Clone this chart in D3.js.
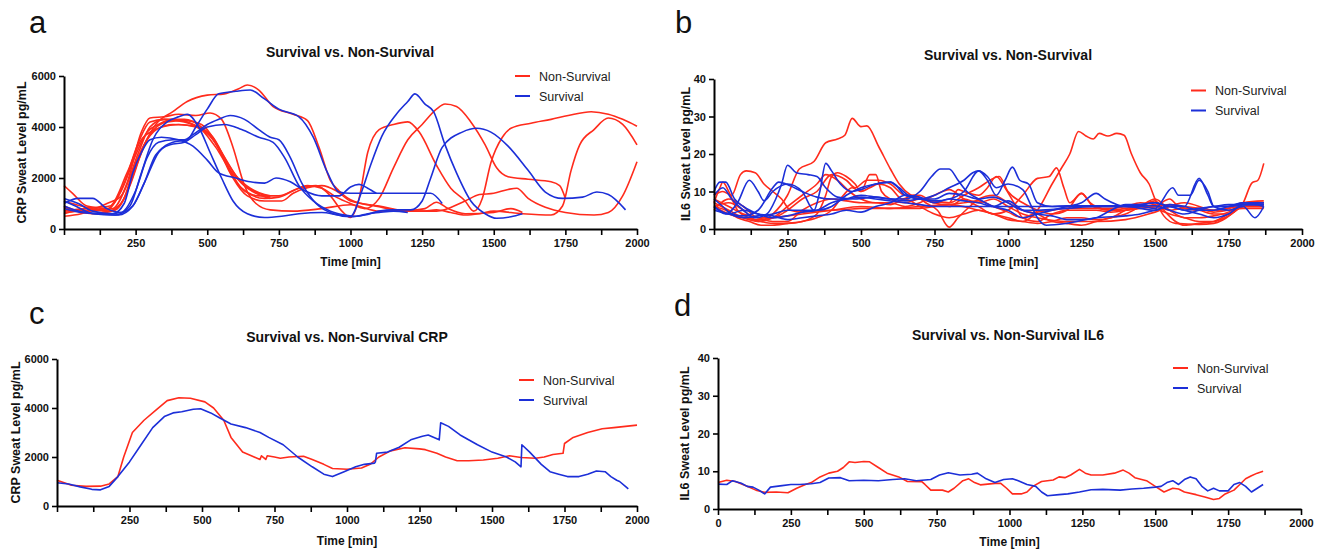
<!DOCTYPE html>
<html><head><meta charset="utf-8">
<script src="https://cdn.jsdelivr.net/npm/d3@7"></script>
<style>
body{margin:0;background:#fff;}
svg{display:block;}
</style></head>
<body>
<svg id="chart" width="1327" height="550"></svg>
<script>
// ---------------- DATA ----------------
const timeTicks = [0,125,250,375,500,625,750,875,1000,1125,1250,1375,1500,1625,1750,1875,2000];
const timeLabels = ["250","500","750","1000","1250","1500","1750","2000"];
const crpTicks = [0,2000,4000,6000];
const il6Ticks = [0,10,20,30,40];
const legendLabels = ["Non-Survival","Survival"];

// Panel a: CRP individual patients, Non-Survival
const crpNonSurvival = [
 [[0,1700],[30,1400],[80,900],[150,800],[200,1500],[250,2900],[290,3800],[330,4100],[380,4300],[430,4200],[480,3900],[530,3200],[580,2300],[630,1700],[680,1400],[720,1250]],
 [[0,900],[60,700],[150,750],[210,1800],[260,3400],[300,4200],[350,4300],[420,4200],[470,4000],[520,3600],[570,2600],[620,1800],[670,1400],[720,1200]],
 [[0,600],[70,800],[160,900],[220,2200],[270,3500],[320,3900],[380,4100],[450,4050],[500,3800],[550,3000],[600,2100],[650,1600],[700,1350],[720,1300]],
 [[0,650],[100,750],[170,800],[220,1800],[270,3800],[300,4350],[350,4400],[400,4500],[460,4450],[510,4550],[550,4300],[590,3200],[630,1700],[670,1000],[720,750],[800,700],[900,800],[1000,950],[1100,700],[1200,720],[1260,800],[1300,1050],[1340,800],[1400,600],[1500,650],[1560,800],[1600,650]],
 [[0,850],[100,600],[180,750],[230,1700],[280,3300],[320,4100],[380,4600],[430,5000],[500,5250],[560,5300],[610,5500],[640,5650],[680,5450],[730,4800],[800,4500],[850,4250],[890,3200],[930,1900],[960,1500],[1000,1150],[1100,870],[1200,700],[1300,700],[1400,1100],[1450,1350],[1500,1400],[1550,1550],[1580,1600],[1620,1200],[1680,850],[1750,650],[1850,550],[1900,650],[1950,1300],[2000,2640]],
 [[0,1100],[60,900],[150,700],[200,1000],[250,2600],[290,3500],[340,4000],[400,4100],[460,4000],[520,3500],[570,2500],[620,1600],[680,1300],[750,1300],[820,1600],[880,1700],[930,1300],[970,700],[1000,450],[1030,1200],[1060,3000],[1100,3900],[1150,4100],[1200,4200],[1240,3800],[1300,2500],[1350,1600],[1400,1100],[1430,700],[1460,1200],[1490,2600],[1530,3600],[1560,3950],[1630,4150],[1700,4300],[1760,4450],[1840,4600],[1900,4500],[1950,4300],[2000,4030]],
 [[0,700],[80,800],[160,700],[210,1200],[260,2700],[300,3700],[360,4200],[420,4250],[480,4100],[530,3400],[580,2200],[630,1500],[700,1200],[750,1250],[800,1500],[850,1700],[900,1600],[950,1250],[1000,1000],[1050,800],[1100,1200],[1150,2400],[1200,3500],[1250,4100],[1300,4700],[1330,4900],[1370,4800],[1420,4200],[1470,3300],[1510,2400],[1550,2050],[1620,1950],[1700,1850],[1730,1700],[1750,1200]],
 [[0,500],[60,600],[150,1000],[200,1300],[260,3000],[300,4000],[350,4300],[420,4300],[480,4000],[540,3200],[590,2000],[640,1300],[700,1100],[760,1100],[800,1400],[900,1700],[950,1500],[1000,1100],[1100,900],[1200,700],[1250,700],[1300,750],[1350,650],[1400,550],[1450,600],[1500,700],[1600,600],[1700,550],[1740,900],[1770,2300],[1800,3300],[1850,3900],[1900,4350],[1950,4100],[2000,3300]]
];
// Panel a: CRP individual patients, Survival
const crpSurvival = [
 [[0,1000],[50,1200],[100,1200],[150,800],[200,650],[240,900],[280,1800],[330,3000],[380,3400],[430,3500],[460,4000],[500,4700],[540,5300],[600,5400],[650,5450],[700,5100],[750,4700],[820,4400],[870,3600],[920,2200],[960,1450],[1000,1400],[1100,1400],[1280,1400],[1320,1000]],
 [[0,1100],[40,900],[100,600],[180,550],[230,900],[270,2200],[310,3500],[360,4200],[400,4400],[430,4500],[470,4000],[510,3000],[550,2000],[590,1100],[640,600],[700,450],[760,500],[820,600],[900,650],[960,550],[1000,500],[1040,1500],[1070,2500],[1110,3650],[1160,4500],[1200,5000],[1225,5300],[1260,4900],[1290,4600],[1330,3300],[1370,2200],[1420,1100],[1470,600],[1510,420],[1560,480],[1600,600]],
 [[0,800],[60,650],[150,600],[200,650],[250,1500],[290,2800],[330,3400],[380,3500],[420,3500],[450,3700],[500,4100],[540,4300],[580,4450],[630,4300],[680,3900],[720,3600],[750,3500],[790,2800],[830,1800],[880,1000],[940,600],[1000,480],[1050,550],[1100,700],[1150,750],[1210,750],[1250,1100],[1280,2000],[1320,3200],[1390,3800],[1440,3950],[1490,3800],[1550,3250],[1620,2300],[1680,1450],[1740,1200],[1810,1250],[1860,1450],[1900,1350],[1960,750]],
 [[0,1200],[50,1000],[100,700],[170,600],[210,1000],[240,2200],[270,3000],[300,3500],[340,3600],[400,3500],[450,3250],[500,2700],[540,2200],[600,2000],[650,1850],[700,1800],[740,2000],[790,1850],[840,1500],[900,1300],[960,1300],[1000,1650],[1030,1750],[1060,1600],[1090,1400]],
 [[0,900],[50,700],[120,600],[190,550],[240,900],[280,1800],[320,2900],[370,3300],[420,3400],[460,3700],[500,4000],[560,4100],[620,3900],[680,3600],[730,3400],[770,2800],[820,1700],[870,1100],[930,700],[980,550],[1020,500],[1060,600],[1100,650],[1150,700],[1200,650]]
];
// Panel b: IL6 individual patients, Non-Survival
const il6NonSurvival = [
 [[0,7],[50,5],[100,3],[150,2],[200,4],[250,9],[290,16],[340,18],[380,23],[420,24],[445,25],[470,29.5],[500,27.3],[520,27.5],[560,22],[600,16],[630,12],[670,9],[700,8],[750,7],[800,6],[850,8],[900,7],[950,8],[1000,6],[1050,4],[1100,3],[1200,2],[1300,2],[1400,2.5],[1500,4.5],[1600,7],[1700,5],[1800,6],[1870,6]],
 [[0,6],[50,4],[100,3],[150,2.5],[200,3],[300,4],[400,5],[500,6],[600,5.5],[700,6],[800,6.5],[900,5],[1000,3],[1050,2],[1100,5],[1150,12],[1180,16],[1210,20],[1240,26],[1265,24.8],[1290,24],[1310,25.5],[1340,24.8],[1370,25.5],[1395,25],[1420,20],[1450,15],[1480,12],[1500,8],[1530,3.5],[1570,1.5],[1650,1.2],[1700,1.5],[1760,4],[1800,7],[1830,12.3],[1850,13],[1870,17.5]],
 [[0,9],[30,10],[60,9],[90,14.5],[110,15.5],[140,15],[170,12],[200,10],[230,8],[260,5],[300,4.5],[350,4.8],[400,5],[450,5.2],[500,5.5],[550,5.5],[600,5.5],[650,5.5],[700,5.5],[750,6],[800,6.5],[850,7],[900,7.5],[950,6],[1000,4.5],[1050,3],[1100,4.5],[1150,5],[1200,5.5],[1250,5.5],[1300,5.5],[1350,5.5],[1400,6],[1450,7],[1500,6.5],[1550,5],[1600,5.5],[1650,5],[1700,4],[1750,4],[1800,6],[1870,6]],
 [[0,7],[20,11],[30,12.5],[50,10],[80,5],[120,3],[160,2],[200,1.5],[250,1.5],[300,2],[350,4],[380,9],[400,14],[420,15],[450,14],[480,12],[500,10],[530,14.5],[550,14.5],[570,10],[600,8],[650,7],[700,8],[750,7.5],[800,7],[830,10.5],[850,10],[900,9],[930,11],[960,14],[990,11],[1020,7],[1050,3],[1100,2],[1150,4],[1200,5],[1250,5],[1300,5],[1350,4.5],[1400,5],[1450,6],[1500,7.5],[1530,5],[1570,2],[1600,1],[1650,1.5],[1700,2],[1750,4],[1800,6],[1870,6.5]],
 [[0,6],[40,5],[80,3],[120,2],[160,1],[200,1],[250,1.5],[300,2],[350,3],[400,5],[440,9],[470,11],[500,10],[530,11],[560,12],[600,11],[640,8],[680,9],[720,7],[760,5],[800,0.5],[830,3],[870,6],[900,8],[950,9],[1000,7],[1050,5],[1100,4],[1150,2],[1200,1.5],[1250,1],[1300,2],[1350,3],[1400,4],[1450,6],[1500,8],[1550,5],[1600,3],[1650,3],[1700,3.5],[1750,4.5],[1800,7],[1870,7.5]],
 [[0,5],[50,8],[100,6],[150,3],[200,3],[250,5],[300,8],[350,10],[400,14.5],[450,13],[480,11],[520,13],[560,13],[600,12],[650,9],[700,9],[750,7],[800,7],[850,9],[900,11],[950,13.5],[970,14],[1000,10],[1050,7],[1100,5],[1150,4],[1200,5],[1250,9.5],[1280,7],[1300,6],[1350,5],[1400,5],[1450,5.5],[1500,6],[1550,8],[1580,6],[1650,5],[1700,5],[1750,5.5],[1800,7],[1870,7]],
 [[0,8],[50,6],[100,4],[150,3],[200,2],[250,2],[300,5],[350,7],[400,8],[450,7.5],[500,7],[550,7],[600,6.5],[650,8],[700,6],[750,4],[800,3],[850,4],[900,5],[950,4],[1000,2.5],[1050,2],[1100,1.5],[1150,2],[1200,3],[1250,3],[1300,2.5],[1350,3],[1400,5],[1450,6],[1500,6],[1550,6.5],[1600,6],[1650,5.5],[1700,4.5],[1750,5],[1800,5.5],[1870,5.5]],
 [[0,6],[50,7],[100,5],[150,2],[200,3],[250,6],[300,9],[350,12],[380,14.5],[420,13],[460,10],[500,8],[550,7],[600,7],[650,6],[700,7],[750,9],[800,10.5],[850,8],[900,6],[950,4],[1000,5],[1050,9],[1100,13.5],[1140,14],[1165,16.3],[1190,11],[1210,7],[1250,9.5],[1290,6],[1350,5],[1400,5.5],[1450,6],[1500,5.5],[1550,4],[1600,3],[1650,2],[1700,2],[1750,3.5],[1800,6],[1870,6.5]]
];
// Panel b: IL6 individual patients, Survival
const il6Survival = [
 [[0,9],[30,11],[60,8],[100,5],[140,3],[180,4],[210,8],[230,12],[250,17],[280,15],[320,14.5],[350,14],[380,11],[420,8.5],[480,8],[550,8.5],[600,8],[650,7.5],[700,8],[750,8],[800,9.5],[850,9],[900,8],[950,8.5],[1000,7],[1050,5],[1100,5],[1200,5.5],[1300,6],[1400,6],[1500,5],[1550,6.5],[1600,6],[1650,5],[1700,5],[1750,6],[1800,7],[1870,7]],
 [[0,6],[40,4],[80,7],[120,13],[150,10],[170,7.5],[200,10],[250,12],[300,10],[340,5],[360,10],[380,17.5],[400,15.5],[430,12],[470,10],[500,10.5],[550,12],[600,12.5],[620,11.5],[650,9],[700,8],[750,7.5],[800,8],[850,10],[900,15.5],[930,14],[960,11],[1000,12],[1050,10.5],[1080,6],[1100,3],[1130,1],[1200,1.5],[1300,3],[1400,3.5],[1450,4],[1500,5],[1550,6],[1600,5],[1650,5.5],[1700,6],[1750,6.5],[1800,6.5],[1870,6.5]],
 [[0,10],[20,12.5],[40,12.5],[70,8],[100,6],[150,4],[200,3],[250,3.5],[300,4.5],[350,5],[400,7],[450,8],[500,9],[550,8.5],[600,8],[650,8],[700,10],[740,14],[770,16],[800,16],[830,13],[860,10],[900,8],[950,6],[1000,5],[1050,3],[1100,4],[1150,5],[1200,6],[1250,7],[1300,9.5],[1330,8],[1400,6],[1450,6.5],[1500,7],[1550,6],[1600,6],[1650,13.5],[1680,9],[1700,6],[1750,6],[1800,7],[1870,6]],
 [[0,5],[50,4],[100,3],[150,3.5],[200,4],[250,5],[300,5],[350,5],[400,6],[450,9],[500,11],[550,12],[600,12.5],[630,11],[660,9],[700,8],[750,9],[800,11],[850,13],[880,15],[900,15.5],[930,13],[960,9],[990,13],[1015,16.5],[1040,13],[1070,12],[1100,7],[1150,6],[1200,6.2],[1500,6.2],[1550,5],[1600,4],[1650,5],[1700,6],[1750,6],[1800,6.5],[1870,7]],
 [[0,8],[30,6],[60,4],[100,3.5],[150,5],[200,11],[220,12.5],[260,11.5],[300,10],[350,8.5],[400,8],[450,8],[500,8.5],[550,8],[600,7.5],[650,7],[700,6.5],[750,6],[1450,6],[1500,5.5],[1560,11],[1580,9],[1620,9],[1650,13],[1680,10],[1700,6],[1750,5],[1800,6],[1840,3],[1870,6]],
 [[0,6],[50,4],[100,5],[150,4],[200,3.5],[250,2.5],[300,3],[350,3.5],[400,4],[450,5],[500,4.5],[550,6],[600,7],[650,9],[700,8.5],[750,7],[800,8],[850,7.5],[900,7],[950,6],[1000,7.5],[1050,5],[1100,4],[1150,3.5],[1200,2.5],[1250,2.5],[1300,3],[1350,5],[1400,6.5],[1450,6.5],[1500,7],[1550,6],[1600,5],[1650,4],[1700,3],[1750,4],[1800,6.5],[1870,6.5]]
];
// Panel c: CRP group averages
const crpAvgNonSurvival = [[0,1050],[50,850],[100,800],[150,810],[180,900],[210,1200],[230,2000],[260,3000],[300,3500],[340,3900],[380,4300],[420,4420],[460,4400],[510,4250],[540,4000],[575,3500],[600,2800],[640,2200],[680,2000],[700,1900],[705,2050],[720,1900],[725,2050],[750,2000],[770,1950],[800,2000],[850,2030],[880,1900],[920,1700],[950,1530],[1000,1500],[1050,1550],[1080,1700],[1110,2000],[1150,2250],[1200,2380],[1250,2330],[1270,2300],[1310,2150],[1340,2000],[1380,1850],[1420,1850],[1470,1880],[1520,1950],[1560,2050],[1600,1980],[1650,1950],[1680,2000],[1710,2100],[1745,2150],[1750,2550],[1780,2800],[1830,3000],[1880,3150],[1920,3200],[2000,3300]];
const crpAvgSurvival = [[0,950],[40,900],[80,780],[120,680],[150,660],[180,800],[210,1200],[250,1800],[290,2500],[330,3200],[370,3650],[400,3800],[430,3850],[470,3950],[495,3970],[530,3800],[560,3600],[600,3350],[650,3200],[700,3000],[730,2800],[780,2500],[830,2000],[880,1600],[920,1300],[950,1200],[990,1400],[1030,1600],[1060,1700],[1095,1750],[1098,1800],[1102,2150],[1140,2200],[1180,2400],[1220,2700],[1260,2850],[1280,2900],[1318,2700],[1323,3400],[1350,3250],[1390,2900],[1450,2500],[1500,2200],[1550,2000],[1580,1800],[1600,1600],[1603,2500],[1630,2200],[1670,1700],[1700,1400],[1730,1300],[1760,1200],[1800,1200],[1830,1300],[1860,1430],[1890,1400],[1910,1200],[1930,1050],[1940,1000],[1960,800],[1970,700]];
// Panel d: IL6 group averages
const il6AvgNonSurvival = [[0,7],[30,7.6],[60,7.3],[100,6],[130,5],[160,4.4],[200,4.5],[240,4.3],[270,5.5],[300,6.5],[320,7],[350,8.5],[380,9.5],[410,10],[430,11],[450,12.5],[470,12.3],[500,12.6],[520,12.5],[550,11],[580,9.5],[620,8.5],[650,7.3],[700,7.2],[710,6.5],[730,5],[770,5],[790,4.5],[810,5.5],[840,7.5],[860,8],[880,7],[900,6.4],[950,6.8],[970,6.8],[990,5.5],[1010,4],[1040,4],[1060,4.5],[1080,6],[1110,7.3],[1150,7.7],[1170,8.5],[1190,8.3],[1210,9],[1240,10.5],[1260,9.5],[1280,9],[1320,9],[1360,9.5],[1390,10.3],[1410,9.5],[1430,8.3],[1470,7.5],[1500,6],[1530,4.5],[1560,5.5],[1580,5.3],[1600,4.5],[1640,3.8],[1670,3.2],[1700,2.5],[1720,2.8],[1740,4],[1770,5],[1790,6.5],[1810,8],[1830,8.8],[1850,9.5],[1870,10]];
const il6AvgSurvival = [[0,6.6],[30,6.5],[50,7.5],[80,6.8],[100,6],[120,5.8],[140,5],[160,4],[180,5.8],[220,6.2],[250,6.5],[280,6.5],[320,6.7],[350,7],[380,8.2],[420,8.3],[450,7.5],[500,7.6],[550,7.5],[600,7.8],[640,8],[680,7.5],[730,7.8],[760,9],[790,9.6],[830,9],[870,9.2],[890,9.5],[920,8],[950,7],[980,7.8],[1010,8],[1030,7.5],[1060,6.5],[1090,6],[1110,4.5],[1130,3.5],[1170,3.8],[1200,4],[1240,4.5],[1280,5.1],[1320,5.2],[1380,5],[1420,5.3],[1460,5.5],[1500,5.8],[1520,6],[1540,7],[1560,7.5],[1580,6.5],[1600,7.8],[1620,8.5],[1640,8],[1660,6],[1680,4.8],[1700,5.5],[1720,4.8],[1750,4.8],[1770,6.5],[1790,7],[1810,6],[1830,4.5],[1850,5.5],[1870,6.5]];

// ---------------- DRAWING ----------------
const RED = "#ff2b1c", BLUE = "#1c2fd8";
const FONT = '"Liberation Sans",Arial,Helvetica,sans-serif';
const svg = d3.select("#chart");

function panel(cfg){
  const g = svg.append("g");
  const x = d3.scaleLinear().domain([0,2000]).range([cfg.x0,cfg.x1]);
  const y = d3.scaleLinear().domain([0,cfg.ymax]).range([cfg.yb,cfg.yt]);
  const line = d3.line().x(d=>x(d[0])).y(d=>y(d[1])).curve(cfg.smooth ? d3.curveMonotoneX : d3.curveLinear);
  cfg.red.forEach(s=>g.append("path").attr("d",line(s)).attr("fill","none").attr("stroke",RED).attr("stroke-width",1.6).attr("stroke-linejoin","round"));
  cfg.blue.forEach(s=>g.append("path").attr("d",line(s)).attr("fill","none").attr("stroke",BLUE).attr("stroke-width",1.6).attr("stroke-linejoin","round"));
  // x axis
  const xa = d3.axisBottom(x).tickValues(timeTicks).tickSize(6).tickPadding(4).tickSizeOuter(0)
     .tickFormat(d=> (d%250===0 && (d>0 || cfg.zeroLabel)) ? String(d) : "");
  const gx = g.append("g").attr("transform",`translate(0,${cfg.yb})`).call(xa);
  gx.select(".domain").attr("stroke","#000").attr("stroke-width",2);
  gx.selectAll(".tick line").attr("stroke","#000").attr("stroke-width",1.6);
  gx.selectAll("text").attr("font-family",FONT).attr("font-weight","bold").attr("font-size",11).attr("fill","#111");
  // y axis
  const ya = d3.axisLeft(y).tickValues(cfg.yticks).tickSize(5).tickPadding(3).tickSizeOuter(0).tickFormat(d3.format("d"));
  const gy = g.append("g").attr("transform",`translate(${cfg.x0},0)`).call(ya);
  gy.select(".domain").attr("stroke","#000").attr("stroke-width",2);
  gy.selectAll(".tick line").attr("stroke","#000").attr("stroke-width",1.6);
  gy.selectAll("text").attr("font-family",FONT).attr("font-weight","bold").attr("font-size",11).attr("fill","#111");
  // labels
  g.append("text").attr("x",cfg.titleX).attr("y",cfg.titleY).attr("text-anchor","middle")
    .attr("font-family",FONT).attr("font-weight","bold").attr("font-size",14).attr("fill","#111").text(cfg.title);
  g.append("text").attr("x",(cfg.x0+cfg.x1)/2).attr("y",cfg.xlabY).attr("text-anchor","middle")
    .attr("font-family",FONT).attr("font-weight","bold").attr("font-size",12).attr("fill","#111").text("Time [min]");
  g.append("text").attr("transform",`translate(${cfg.ylabX},${(cfg.yt+cfg.yb)/2}) rotate(-90)`).attr("text-anchor","middle")
    .attr("font-family",FONT).attr("font-weight","bold").attr("font-size",12.5).attr("fill","#111").text(cfg.ylab);
  g.append("text").attr("x",cfg.letterX).attr("y",cfg.letterY).attr("font-family",FONT)
    .attr("font-size",31).attr("fill","#111").text(cfg.letter);
  // legend
  [RED,BLUE].forEach((c,i)=>{
    const ly = cfg.legY + i*cfg.legGap;
    g.append("line").attr("x1",cfg.legX).attr("x2",cfg.legX+15).attr("y1",ly).attr("y2",ly).attr("stroke",c).attr("stroke-width",2);
    g.append("text").attr("x",cfg.legX+24).attr("y",ly+4.5).attr("font-family",FONT).attr("font-size",12.5).attr("fill","#222").text(legendLabels[i]);
  });
}

panel({x0:64,x1:637,yt:76,yb:229,ymax:6000,yticks:crpTicks,red:crpNonSurvival,blue:crpSurvival,smooth:true,
  title:"Survival vs. Non-Survival",titleX:350,titleY:57,xlabY:266,ylabX:26,ylab:"CRP Sweat Level pg/mL",
  letter:"a",letterX:29,letterY:33,legX:515,legY:76,legGap:20,zeroLabel:false});
panel({x0:714,x1:1302,yt:79,yb:229,ymax:40,yticks:il6Ticks,red:il6NonSurvival,blue:il6Survival,smooth:true,
  title:"Survival vs. Non-Survival",titleX:1008,titleY:60,xlabY:266,ylabX:690,ylab:"IL6 Sweat Level pg/mL",
  letter:"b",letterX:675,letterY:33,legX:1191,legY:90.5,legGap:20,zeroLabel:false});
panel({x0:57,x1:637,yt:359,yb:506,ymax:6000,yticks:crpTicks,red:[crpAvgNonSurvival],blue:[crpAvgSurvival],smooth:false,
  title:"Survival vs. Non-Survival CRP",titleX:347,titleY:342,xlabY:545,ylabX:20,ylab:"CRP Sweat Level pg/mL",
  letter:"c",letterX:29,letterY:324,legX:519,legY:380,legGap:20,zeroLabel:false});
panel({x0:718,x1:1301,yt:358,yb:509,ymax:40,yticks:il6Ticks,red:[il6AvgNonSurvival],blue:[il6AvgSurvival],smooth:false,
  title:"Survival vs. Non-Survival IL6",titleX:1008,titleY:340,xlabY:546,ylabX:689,ylab:"IL6 Sweat Level pg/mL",
  letter:"d",letterX:674,letterY:316,legX:1173,legY:368,legGap:20,zeroLabel:true});
</script>
</body></html>
